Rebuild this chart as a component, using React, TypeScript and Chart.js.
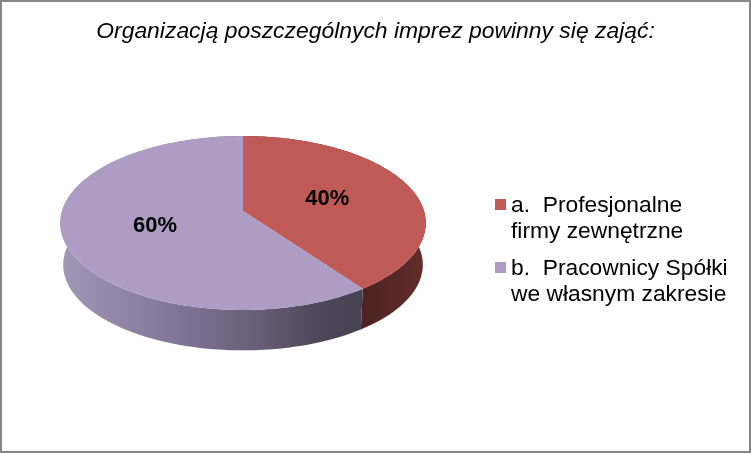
import { useEffect, useRef } from 'react';
import { Chart, Plugin, registerables } from 'chart.js';

Chart.register(...registerables);

const titleText = 'Organizacją poszczególnych imprez powinny się zająć:';
const categories = ['a.  Profesjonalne', 'b.  Pracownicy Spółki'];
const categoryLines = ['firmy zewnętrzne', 'we własnym zakresie'];
const shares = [40, 60];
const topColors = ['#c05a57', '#ae9cc4'];
const sideStops = [
  [[0, '#4c2220'], [1, '#622d2b']],
  [[0, '#a297b6'], [0.35, '#83789a'], [0.65, '#695e78'], [0.85, '#4d4859'], [1, '#464252']]
] as [number, string][][];

// perspective of the pie: pivot of the top face, radii and tilt
const CX = 243;
const CY = 211;
const RX = 181;
const RY = 85.3;
const TILT = 0.138;
const BOTTOM_SCALE = 0.984;
const BOTTOM_DROP = 42;

function project(angle: number, r = 1, scale = 1, drop = 0) {
  const u = Math.sin(angle) * r;
  const v = -Math.cos(angle) * r;
  const w = 1 - TILT * v;
  return { x: CX + (RX * u * scale) / w, y: CY + drop + (RY * v * scale) / w };
}

function tracePath(ctx: CanvasRenderingContext2D, from: number, to: number, scale: number, drop: number, first: boolean) {
  const steps = 120;
  for (let i = 0; i <= steps; i++) {
    const p = project(from + ((to - from) * i) / steps, 1, scale, drop);
    if (i === 0 && first) ctx.moveTo(p.x, p.y);
    else ctx.lineTo(p.x, p.y);
  }
}

const piePlugin: Plugin<'pie'> = {
  id: 'pie3d',
  beforeDraw(chart) {
    const { ctx, width, height } = chart;
    ctx.save();
    ctx.fillStyle = '#ffffff';
    ctx.fillRect(0, 0, width, height);
    ctx.strokeStyle = '#868686';
    ctx.lineWidth = 2;
    ctx.strokeRect(1, 1, width - 2, height - 2);
    ctx.restore();
  },
  beforeDatasetsDraw(chart) {
    const { ctx } = chart;
    const arcs = chart.getDatasetMeta(0).data as any[];
    const turn = Math.PI / 2;

    // side wall first, the top face covers what is behind it
    arcs.forEach((arc, i) => {
      const from = arc.startAngle + turn;
      const to = arc.endAngle + turn;
      const edge = project(from).x;
      const grad = i === 0 ? ctx.createLinearGradient(edge + 119, 0, CX + RX, 0) : ctx.createLinearGradient(60, 0, edge, 0);
      sideStops[i].forEach(([pos, color]) => grad.addColorStop(pos, color));
      ctx.beginPath();
      tracePath(ctx, from, to, 1, 0, true);
      tracePath(ctx, to, from, BOTTOM_SCALE, BOTTOM_DROP, false);
      ctx.closePath();
      ctx.fillStyle = grad;
      ctx.fill();
    });

    arcs.forEach((arc, i) => {
      const from = arc.startAngle + turn;
      const to = arc.endAngle + turn;
      const pivot = project(0, 0);
      ctx.beginPath();
      ctx.moveTo(pivot.x, pivot.y);
      tracePath(ctx, from, to, 1, 0, false);
      ctx.closePath();
      ctx.fillStyle = topColors[i];
      ctx.fill();
    });

    // percentage labels
    ctx.save();
    ctx.fillStyle = '#000000';
    ctx.font = 'bold 22px "Liberation Sans"';
    ctx.textAlign = 'center';
    ctx.textBaseline = 'middle';
    arcs.forEach((arc, i) => {
      const mid = (arc.startAngle + arc.endAngle) / 2 + turn;
      const p = project(mid, 0.5);
      ctx.fillText(`${shares[i]}%`, p.x, p.y + 1);
    });
    ctx.restore();
    return false;
  },
  afterDraw(chart) {
    const { ctx } = chart;
    const rows = [212, 275];
    ctx.save();
    ctx.font = '22.8px "Liberation Sans"';
    ctx.textAlign = 'left';
    ctx.textBaseline = 'alphabetic';
    (chart.data.labels as string[]).forEach((label, i) => {
      ctx.fillStyle = topColors[i];
      ctx.fillRect(495, rows[i] - 13, 11, 11);
      ctx.fillStyle = '#000000';
      ctx.fillText(label, 511, rows[i]);
      ctx.fillText(categoryLines[i], 511, rows[i] + 26);
    });
    ctx.restore();
  }
};

export default function App() {
  const canvasRef = useRef<HTMLCanvasElement | null>(null);

  useEffect(() => {
    document.body.style.margin = '0';
    if (!canvasRef.current) {
      return;
    }
    const chart = new Chart(canvasRef.current, {
      type: 'pie',
      data: {
        labels: categories,
        datasets: [{ data: shares, backgroundColor: topColors, borderWidth: 0 }]
      },
      options: {
        responsive: false,
        animation: false,
        plugins: {
          legend: { display: false },
          tooltip: { enabled: false },
          title: {
            display: true,
            text: titleText,
            color: '#000000',
            font: { family: '"Liberation Sans"', size: 22.9, style: 'italic', weight: 'normal' },
            padding: { top: 18, bottom: 0 }
          }
        }
      },
      plugins: [piePlugin]
    });
    return () => {
      chart.destroy();
    };
  }, []);

  return <canvas ref={canvasRef} width={751} height={453} style={{ display: 'block' }} />;
}
